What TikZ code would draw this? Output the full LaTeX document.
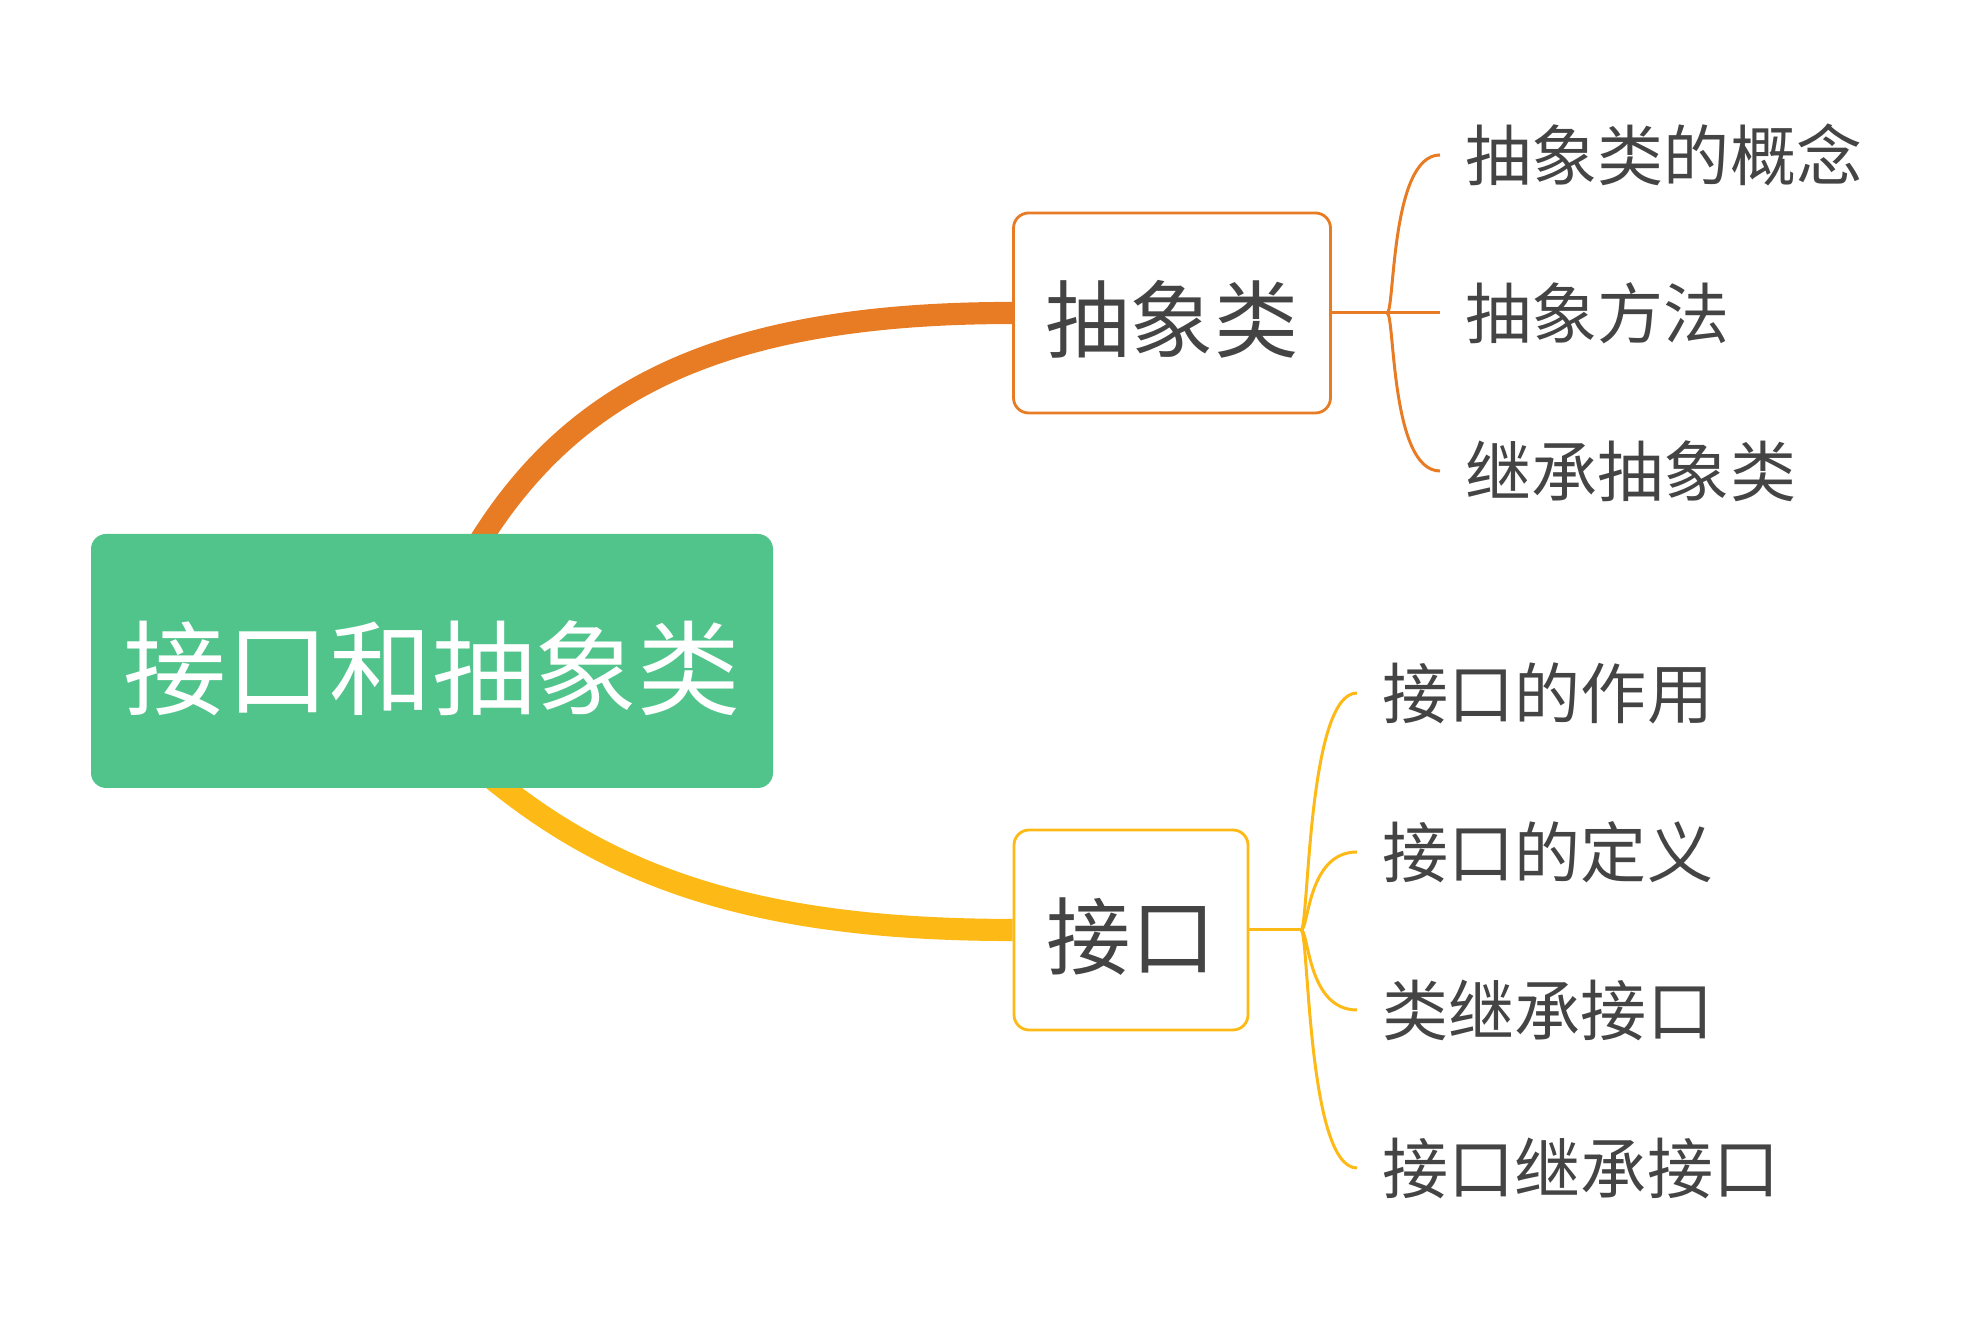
\documentclass[tikz,border=0pt]{standalone}
\usepackage{fontspec}
\newfontfamily\cjkfont{Noto Sans CJK SC}
\usepackage{tikz}
\usetikzlibrary{backgrounds}
\definecolor{MapGreen}{RGB}{81,196,140}
\definecolor{MapOrange}{RGB}{232,124,37}
\definecolor{MapYellow}{RGB}{253,185,21}
\definecolor{MapText}{RGB}{68,68,68}

\begin{document}
\begin{tikzpicture}[
    root/.style={rectangle,fill=MapGreen,minimum width=6.82cm,minimum height=2.54cm,
                 rounded corners=4.3pt,text=white,text height=28.5pt,text depth=2pt,
                 font=\cjkfont\fontsize{29.3}{34}\selectfont},
    topic/.style={rectangle,draw,fill=white,line width=0.8pt,minimum height=2.0cm,
                  rounded corners=4.3pt,text=MapText,text height=24.2pt,text depth=2pt,
                  font=\cjkfont\fontsize{24}{28}\selectfont},
    leaf/.style={anchor=west,inner xsep=0.25cm,text=MapText,text height=16.8pt,
                 text depth=2pt,font=\cjkfont\fontsize{18.8}{22}\selectfont},
    trunk/.style={line width=6.3pt},
    twig/.style={line width=0.85pt},
  ]
  \useasboundingbox (0,0) rectangle (19.8,13.23);

  \node[root] (root) at (4.32,6.62) {接口和抽象类};
  \node[topic,draw=MapOrange,minimum width=3.17cm] (abs) at (11.72,10.10) {抽象类};
  \node[topic,draw=MapYellow,minimum width=2.34cm] (itf) at (11.31,3.93) {接口};

  \node[leaf] (absdef)  at (14.40,11.68) {抽象类的概念};
  \node[leaf] (absmeth) at (14.40,10.10) {抽象方法};
  \node[leaf] (absinh)  at (14.40,8.52)  {继承抽象类};

  \node[leaf] (itfuse)  at (13.57,6.30) {接口的作用};
  \node[leaf] (itfdef)  at (13.57,4.71) {接口的定义};
  \node[leaf] (clsimpl) at (13.57,3.13) {类继承接口};
  \node[leaf] (itfinh)  at (13.57,1.55) {接口继承接口};

  \coordinate (absfork) at (13.87,10.10);
  \coordinate (itffork) at (13.01,3.93);

  \begin{scope}[on background layer]
    \draw[trunk,MapOrange] ([xshift=3.7mm,yshift=-2.6mm]root.north)
      .. controls +(60:1.9) and +(-3,0) .. (abs.west);
    \draw[trunk,MapYellow] ([xshift=5.3mm,yshift=1.6mm]root.south)
      .. controls +(-40:1.65) and +(-2.54,0) .. (itf.west);
  \end{scope}

  \draw[twig,MapOrange] (abs.east) -- (absfork);
  \draw[twig,MapOrange] (absfork) .. controls +(0.08,0) and +(-0.5,0) .. (absdef.west);
  \draw[twig,MapOrange] (absfork) -- (absmeth.west);
  \draw[twig,MapOrange] (absfork) .. controls +(0.08,0) and +(-0.5,0) .. (absinh.west);

  \draw[twig,MapYellow] (itf.east) -- (itffork);
  \draw[twig,MapYellow] (itffork) .. controls +(0.08,0) and +(-0.5,0) .. (itfuse.west);
  \draw[twig,MapYellow] (itffork) .. controls +(0.08,0) and +(-0.5,0) .. (itfdef.west);
  \draw[twig,MapYellow] (itffork) .. controls +(0.08,0) and +(-0.5,0) .. (clsimpl.west);
  \draw[twig,MapYellow] (itffork) .. controls +(0.08,0) and +(-0.5,0) .. (itfinh.west);
\end{tikzpicture}
\end{document}
